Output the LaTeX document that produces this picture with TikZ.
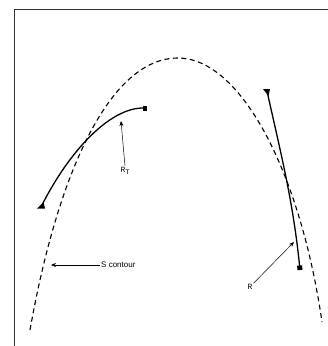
\documentclass[tikz,border=0pt]{standalone}
\usepackage{fontspec}
\setsansfont{Liberation Sans}
\setmonofont{Liberation Mono}
\usepackage{tikz}
\usetikzlibrary{arrows.meta}

\begin{document}
\begin{tikzpicture}[x=1pt, y=-1pt, every node/.style={font=\ttfamily\fontsize{8}{9}\selectfont, inner sep=1pt}]
    \useasboundingbox (0,0) rectangle (328,346);
    % frame (only left and top edges show)
    \draw[black!80, line width=0.8pt] (14,346) |- (328,9);
    % S contour: dashed arch
    \draw[dash pattern=on 5pt off 3.5pt, line width=1.1pt]
      (30,330) .. controls (58,172) and (110,58) .. (178,58)
               .. controls (240,58) and (300,170) .. (322,322);
    % trajectory R_T (curved), triangle start, square end
    \draw[line width=1.3pt, -{Square[length=4.5pt,width=5pt]}]
      (42,205) .. controls (70,150) and (110,108) .. (147,108);
    \fill (37,208.5) -- (45,208.5) -- (43.5,202) -- cycle;
    % trajectory R (nearly straight)
    \draw[line width=1.3pt, -{Square[length=4.5pt,width=5pt]}]
      (267,91) .. controls (280,150) and (293,200) .. (300,270);
    \fill (263,89) -- (270,89) -- (268.5,96) -- cycle;
    % labels and pointers
    \coordinate (rttip) at (121,121);
    \coordinate (sctip) at (51,265);
    \coordinate (rtip) at (294,242);
    \node (rt) at (125,171) {R\raisebox{-0.55ex}{\fontsize{7}{8}\selectfont T}};
    \node[font=\sffamily\fontsize{8}{9}\selectfont, anchor=west] (sc) at (100,265) {S contour};
    \node (rl) at (250,287) {R};
    \draw[-{Stealth[length=5pt,width=4pt]}, line width=0.5pt] (rt.north) -- (rttip);
    \draw[-{Stealth[length=5pt,width=4pt]}, line width=0.5pt] (sc.west) -- (sctip);
    \draw[-{Stealth[length=5pt,width=4pt]}, line width=0.5pt] (rl.north east) -- (rtip);
\end{tikzpicture}
\end{document}
